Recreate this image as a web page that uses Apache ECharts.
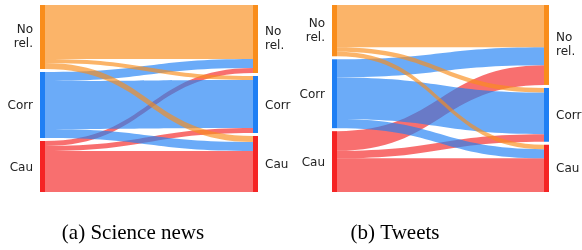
<!DOCTYPE html>
<html>
<head>
<meta charset="utf-8">
<script src="https://cdn.jsdelivr.net/npm/echarts@6/dist/echarts.min.js"></script>
<style>html,body{margin:0;padding:0;background:#fff}#c{width:582px;height:250px}</style>
</head>
<body>
<div id="c"></div>
<script>
// Categories (node labels) and colours
var categories = ['No\nrel.', 'Corr', 'Cau'];
var nodeColors = ['#f98d1b', '#1f7ff4', '#f52424'];
// Flow values: rows = source (left), columns = target (right)
var newsFlows = [
  [54, 4, 6],
  [9, 48, 9],
  [5, 5, 41]
];
var tweetFlows = [
  [42, 4.5, 4.5],
  [18, 41.5, 9],
  [19.5, 7.5, 33.5]
];
var captions = ['(a) Science news', '(b) Tweets'];

function labelOffset(c) {
  return c.indexOf('\n') >= 0 ? [0, 0] : [0, 1];
}
function buildNodes() {
  var nodes = [];
  categories.forEach(function (c, i) {
    nodes.push({ name: 'L' + i, itemStyle: { color: nodeColors[i] },
      label: { position: 'left', formatter: c, offset: labelOffset(c) } });
  });
  categories.forEach(function (c, i) {
    nodes.push({ name: 'R' + i, itemStyle: { color: nodeColors[i] },
      label: { position: 'right', formatter: c, offset: labelOffset(c) } });
  });
  return nodes;
}
function buildLinks(flows) {
  var links = [];
  // draw later sources first so the first source's ribbons sit on top
  for (var i = flows.length - 1; i >= 0; i--) {
    flows[i].forEach(function (v, j) {
      links.push({ source: 'L' + i, target: 'R' + j, value: v });
    });
  }
  return links;
}
function sankey(flows, left, width) {
  return {
    type: 'sankey',
    left: left, top: 5, width: width, height: 187,
    nodeWidth: 5, nodeGap: 3, layoutIterations: 0,
    draggable: false,
    data: buildNodes(),
    links: buildLinks(flows),
    label: { show: true, distance: 7, fontFamily: 'DejaVu Sans', fontSize: 12,
      color: '#222', lineHeight: 14.5 },
    lineStyle: { color: 'source', opacity: 0.66, curveness: 0.5 },
    itemStyle: { borderWidth: 0 },
    emphasis: { disabled: true },
    animation: false
  };
}
var chart = echarts.init(document.getElementById('c'), null, { renderer: 'canvas' });
chart.setOption({
  animation: false,
  series: [sankey(newsFlows, 40, 218), sankey(tweetFlows, 332, 217)],
  graphic: [
    { type: 'text', x: 133, y: 233, style: { text: captions[0], align: 'center', verticalAlign: 'middle',
      textAlign: 'center', textVerticalAlign: 'middle',
      font: '21px "Liberation Serif"', fill: '#000' } },
    { type: 'text', x: 395, y: 233, style: { text: captions[1], align: 'center', verticalAlign: 'middle',
      textAlign: 'center', textVerticalAlign: 'middle',
      font: '21px "Liberation Serif"', fill: '#000' } }
  ]
});
</script>
</body>
</html>
